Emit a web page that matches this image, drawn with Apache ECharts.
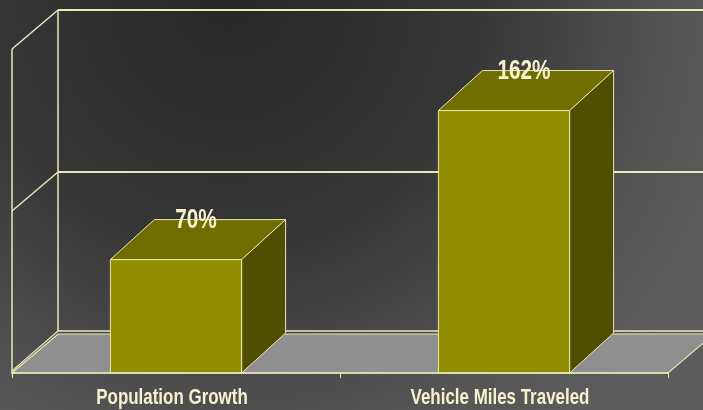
<!DOCTYPE html>
<html>
<head>
<meta charset="utf-8">
<script src="https://cdn.jsdelivr.net/npm/echarts@6/dist/echarts.min.js"></script>
<style>
  html, body { margin: 0; padding: 0; background: #3a3a3a; }
  #chart { width: 703px; height: 410px; }
</style>
</head>
<body>
<div id="chart"></div>
<script>
// Growth comparison, drawn as 3D-style boxes on a walled floor
const categories = ['Population Growth', 'Vehicle Miles Traveled'];
const growthValues = [70, 162];
const gridValues = [0, 100, 200];

const LINE = '#ebe7b6';
const TEXT = '#f6f2cf';
const FONT = '"Liberation Sans", Arial, sans-serif';
const NARROW = 0.77;          // horizontal squeeze for the condensed lettering
const WALL_DEPTH = [46, -39];
const BAR_DEPTH = [44, -40];

const chart = echarts.init(document.getElementById('chart'), null, { renderer: 'canvas' });

function line(p1, p2, width) {
  return {
    type: 'line',
    shape: { x1: p1[0], y1: p1[1], x2: p2[0], y2: p2[1] },
    style: { stroke: LINE, lineWidth: width || 1.5 }
  };
}

function narrowText(text, x, y, size) {
  return {
    type: 'text',
    x: x,
    y: y,
    scaleX: NARROW,
    style: {
      x: 0, y: 0,
      text: text,
      fill: TEXT,
      font: 'bold ' + size + 'px ' + FONT,
      align: 'center',
      verticalAlign: 'middle'
    }
  };
}

// Back wall, side wall, floor slab and category names
function renderFrame(params, api) {
  const cs = params.coordSys;
  const L = cs.x, R = cs.x + cs.width;
  const [dx, dy] = WALL_DEPTH;
  const y0 = api.coord([0, gridValues[0]])[1];
  const yTop = api.coord([0, gridValues[gridValues.length - 1]])[1];
  const children = [];

  // floor
  children.push({
    type: 'polygon',
    shape: { points: [[L, y0], [R, y0], [R + dx, y0 + dy], [L + dx, y0 + dy]] },
    style: { fill: '#8f8f8f', stroke: LINE, lineWidth: 1.2 }
  });
  // bottom edge of the back wall, just above the floor slab
  children.push(line([L + dx, y0 + dy - 3], [R + dx + 20, y0 + dy - 3], 1.5));
  children.push(line([L, y0 - 2], [L + dx, y0 + dy - 3], 1.2));

  gridValues.forEach(function (v) {
    if (v === gridValues[0]) return;
    const y = api.coord([0, v])[1];
    children.push(line([L + dx, y + dy], [R + dx + 20, y + dy], 1.8));
    children.push(line([L, y], [L + dx, y + dy], 1.5));
  });

  // wall verticals
  children.push(line([L + dx, y0 + dy - 3], [L + dx, yTop + dy], 1.5));
  children.push(line([L, y0], [L, yTop], 1.5));

  // category names under the front edge
  categories.forEach(function (name, i) {
    const c = api.coord([i, 0]);
    children.push(narrowText(name, c[0] - 4, c[1] + 25, 22));
  });

  return { type: 'group', children: children };
}

// One box per category with its value printed on the top face
function renderBar(params, api) {
  const idx = api.value(0);
  const v = api.value(1);
  const base = api.coord([idx, 0]);
  const top = api.coord([idx, v]);
  const w = api.size([1, 0])[0] * 0.4;
  const x0 = base[0] - w / 2, x1 = base[0] + w / 2;
  const [dx, dy] = BAR_DEPTH;
  const edge = { stroke: LINE, lineWidth: 1 };
  return {
    type: 'group',
    children: [
      {
        type: 'polygon',
        shape: { points: [[x0, top[1]], [x1, top[1]], [x1 + dx, top[1] + dy], [x0 + dx, top[1] + dy]] },
        style: Object.assign({ fill: '#716e00' }, edge)
      },
      {
        type: 'polygon',
        shape: { points: [[x1, top[1]], [x1 + dx, top[1] + dy], [x1 + dx, base[1] + dy], [x1, base[1]]] },
        style: Object.assign({ fill: '#504e00' }, edge)
      },
      {
        type: 'rect',
        shape: { x: x0, y: top[1], width: w, height: base[1] - top[1] },
        style: Object.assign({ fill: '#918e00' }, edge)
      },
      narrowText(v + '%', base[0] + dx / 2 - 2, top[1] + dy + 1, 27)
    ]
  };
}

chart.setOption({
  animation: false,
  backgroundColor: {
    type: 'radial', x: 230, y: 0, r: 540, global: true,
    colorStops: [
      { offset: 0, color: '#272727' },
      { offset: 0.45, color: '#363636' },
      { offset: 0.8, color: '#535353' },
      { offset: 1, color: '#5c5c5c' }
    ]
  },
  grid: { left: 12, right: 35, top: 49, bottom: 37 },
  xAxis: {
    type: 'category',
    data: categories,
    boundaryGap: true,
    axisLine: { show: true, lineStyle: { color: LINE, width: 1.5 } },
    axisTick: { show: true, length: 5, lineStyle: { color: LINE } },
    axisLabel: { show: false },
    splitLine: { show: false },
    z: 5
  },
  yAxis: {
    type: 'value', min: 0, max: 200, interval: 100,
    show: false
  },
  series: [
    {
      type: 'custom',
      name: 'frame',
      silent: true,
      z: 1,
      data: [[0, 0]],
      renderItem: renderFrame
    },
    {
      type: 'custom',
      name: 'growth',
      z: 3,
      data: growthValues.map(function (v, i) { return [i, v]; }),
      renderItem: renderBar
    }
  ]
});
</script>
</body>
</html>
